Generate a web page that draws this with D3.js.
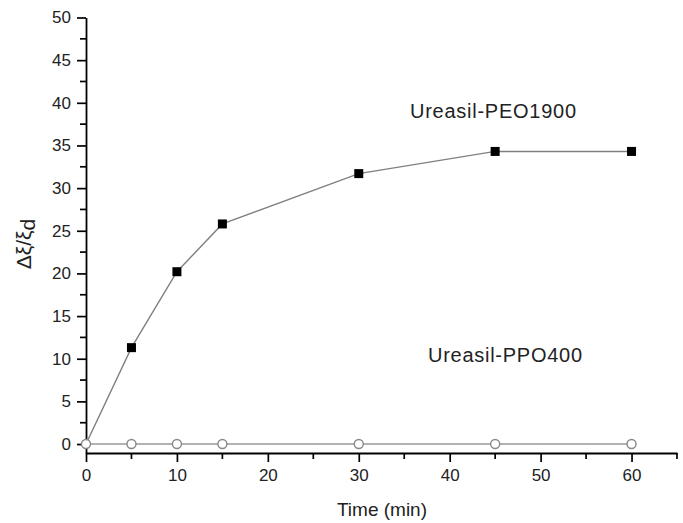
<!DOCTYPE html>
<html>
<head>
<meta charset="utf-8">
<script src="https://cdn.jsdelivr.net/npm/d3@7"></script>
<style>
  body { margin: 0; background: #fff; }
  svg text { font-family: "Liberation Sans", Arial, sans-serif; fill: #222; }
</style>
</head>
<body>
<div class="view"></div>
<script>
const times = [0, 5, 10, 15, 30, 45, 60]
const peo1900 = [0, 11.3, 20.2, 25.8, 31.7, 34.3, 34.3]
const ppo400 = [0, 0, 0, 0, 0, 0, 0]
const xTicks = [0, 10, 20, 30, 40, 50, 60]
const yTicks = [0, 5, 10, 15, 20, 25, 30, 35, 40, 45, 50]

const w = 683
const h = 523

const svg = d3.select('.view')
    .append('svg')
    .attr('width', w)
    .attr('height', h)

// scales
const xScale = d3.scaleLinear().domain([0, 65]).range([86, 677])
const yScale = d3.scaleLinear().domain([-1.05, 50]).range([453, 17.5])

// axes
const xAxis = d3.axisBottom(xScale).tickValues(xTicks).tickSizeInner(9).tickSizeOuter(0).tickPadding(7)
const yAxis = d3.axisLeft(yScale).tickValues(yTicks).tickSizeInner(9).tickSizeOuter(0).tickPadding(6)

const gx = svg.append('g')
    .attr('class', 'x-axis')
    .attr('transform', 'translate(0,453)')
    .call(xAxis)

const gy = svg.append('g')
    .attr('class', 'y-axis')
    .attr('transform', 'translate(86,0)')
    .call(yAxis)

// minor ticks
gx.selectAll('.minor')
    .data([5, 15, 25, 35, 45, 55, 65])
    .enter()
    .append('line')
    .attr('x1', (d) => xScale(d)).attr('x2', (d) => xScale(d))
    .attr('y1', 0).attr('y2', 6)
    .attr('stroke', '#000')

gy.selectAll('.minor')
    .data([2.5, 7.5, 12.5, 17.5, 22.5, 27.5, 32.5, 37.5, 42.5, 47.5])
    .enter()
    .append('line')
    .attr('y1', (d) => yScale(d)).attr('y2', (d) => yScale(d))
    .attr('x1', 0).attr('x2', -6)
    .attr('stroke', '#000')

svg.selectAll('.domain, .tick line')
    .attr('stroke', '#000')
svg.selectAll('.domain').attr('stroke-width', 1.8)
svg.selectAll('.x-axis line, .y-axis line').attr('stroke-width', 1.7)

svg.selectAll('.tick text')
    .attr('font-size', 17)
    .style('font-family', '"Liberation Sans", Arial, sans-serif')
    .attr('fill', '#222')

// lines
const line = d3.line()
    .x((d) => xScale(d[0]))
    .y((d) => yScale(d[1]))

const peoData = times.map((t, i) => [t, peo1900[i]])
const ppoData = times.map((t, i) => [t, ppo400[i]])

svg.append('path')
    .datum(peoData)
    .attr('d', line)
    .attr('fill', 'none')
    .attr('stroke', '#808080')
    .attr('stroke-width', 1.4)

svg.append('path')
    .datum(ppoData)
    .attr('d', line)
    .attr('fill', 'none')
    .attr('stroke', '#999')
    .attr('stroke-width', 1.4)

// markers
svg.selectAll('.ppo')
    .data(ppoData)
    .enter()
    .append('circle')
    .attr('cx', (d) => xScale(d[0]))
    .attr('cy', (d) => yScale(d[1]))
    .attr('r', 4.5)
    .attr('fill', '#fff')
    .attr('stroke', '#888')
    .attr('stroke-width', 1.4)

svg.selectAll('.peo')
    .data(peoData.slice(1))
    .enter()
    .append('rect')
    .attr('x', (d) => xScale(d[0]) - 4.5)
    .attr('y', (d) => yScale(d[1]) - 4.5)
    .attr('width', 9)
    .attr('height', 9)
    .attr('fill', '#000')

// labels
svg.append('text')
    .attr('x', 410).attr('y', 118)
    .attr('font-size', 20)
    .attr('textLength', 166)
    .text('Ureasil-PEO1900')

svg.append('text')
    .attr('x', 428).attr('y', 362)
    .attr('font-size', 20)
    .attr('textLength', 154)
    .text('Ureasil-PPO400')

svg.append('text')
    .attr('x', 382).attr('y', 516)
    .attr('text-anchor', 'middle')
    .attr('font-size', 19)
    .text('Time (min)')

const yl = svg.append('text')
    .attr('transform', 'translate(31,244) rotate(-90)')
    .attr('text-anchor', 'middle')
    .attr('font-size', 21)
yl.append('tspan').text('Δξ/ξ')
yl.append('tspan').attr('dy', 4).text('d')
</script>
</body>
</html>
